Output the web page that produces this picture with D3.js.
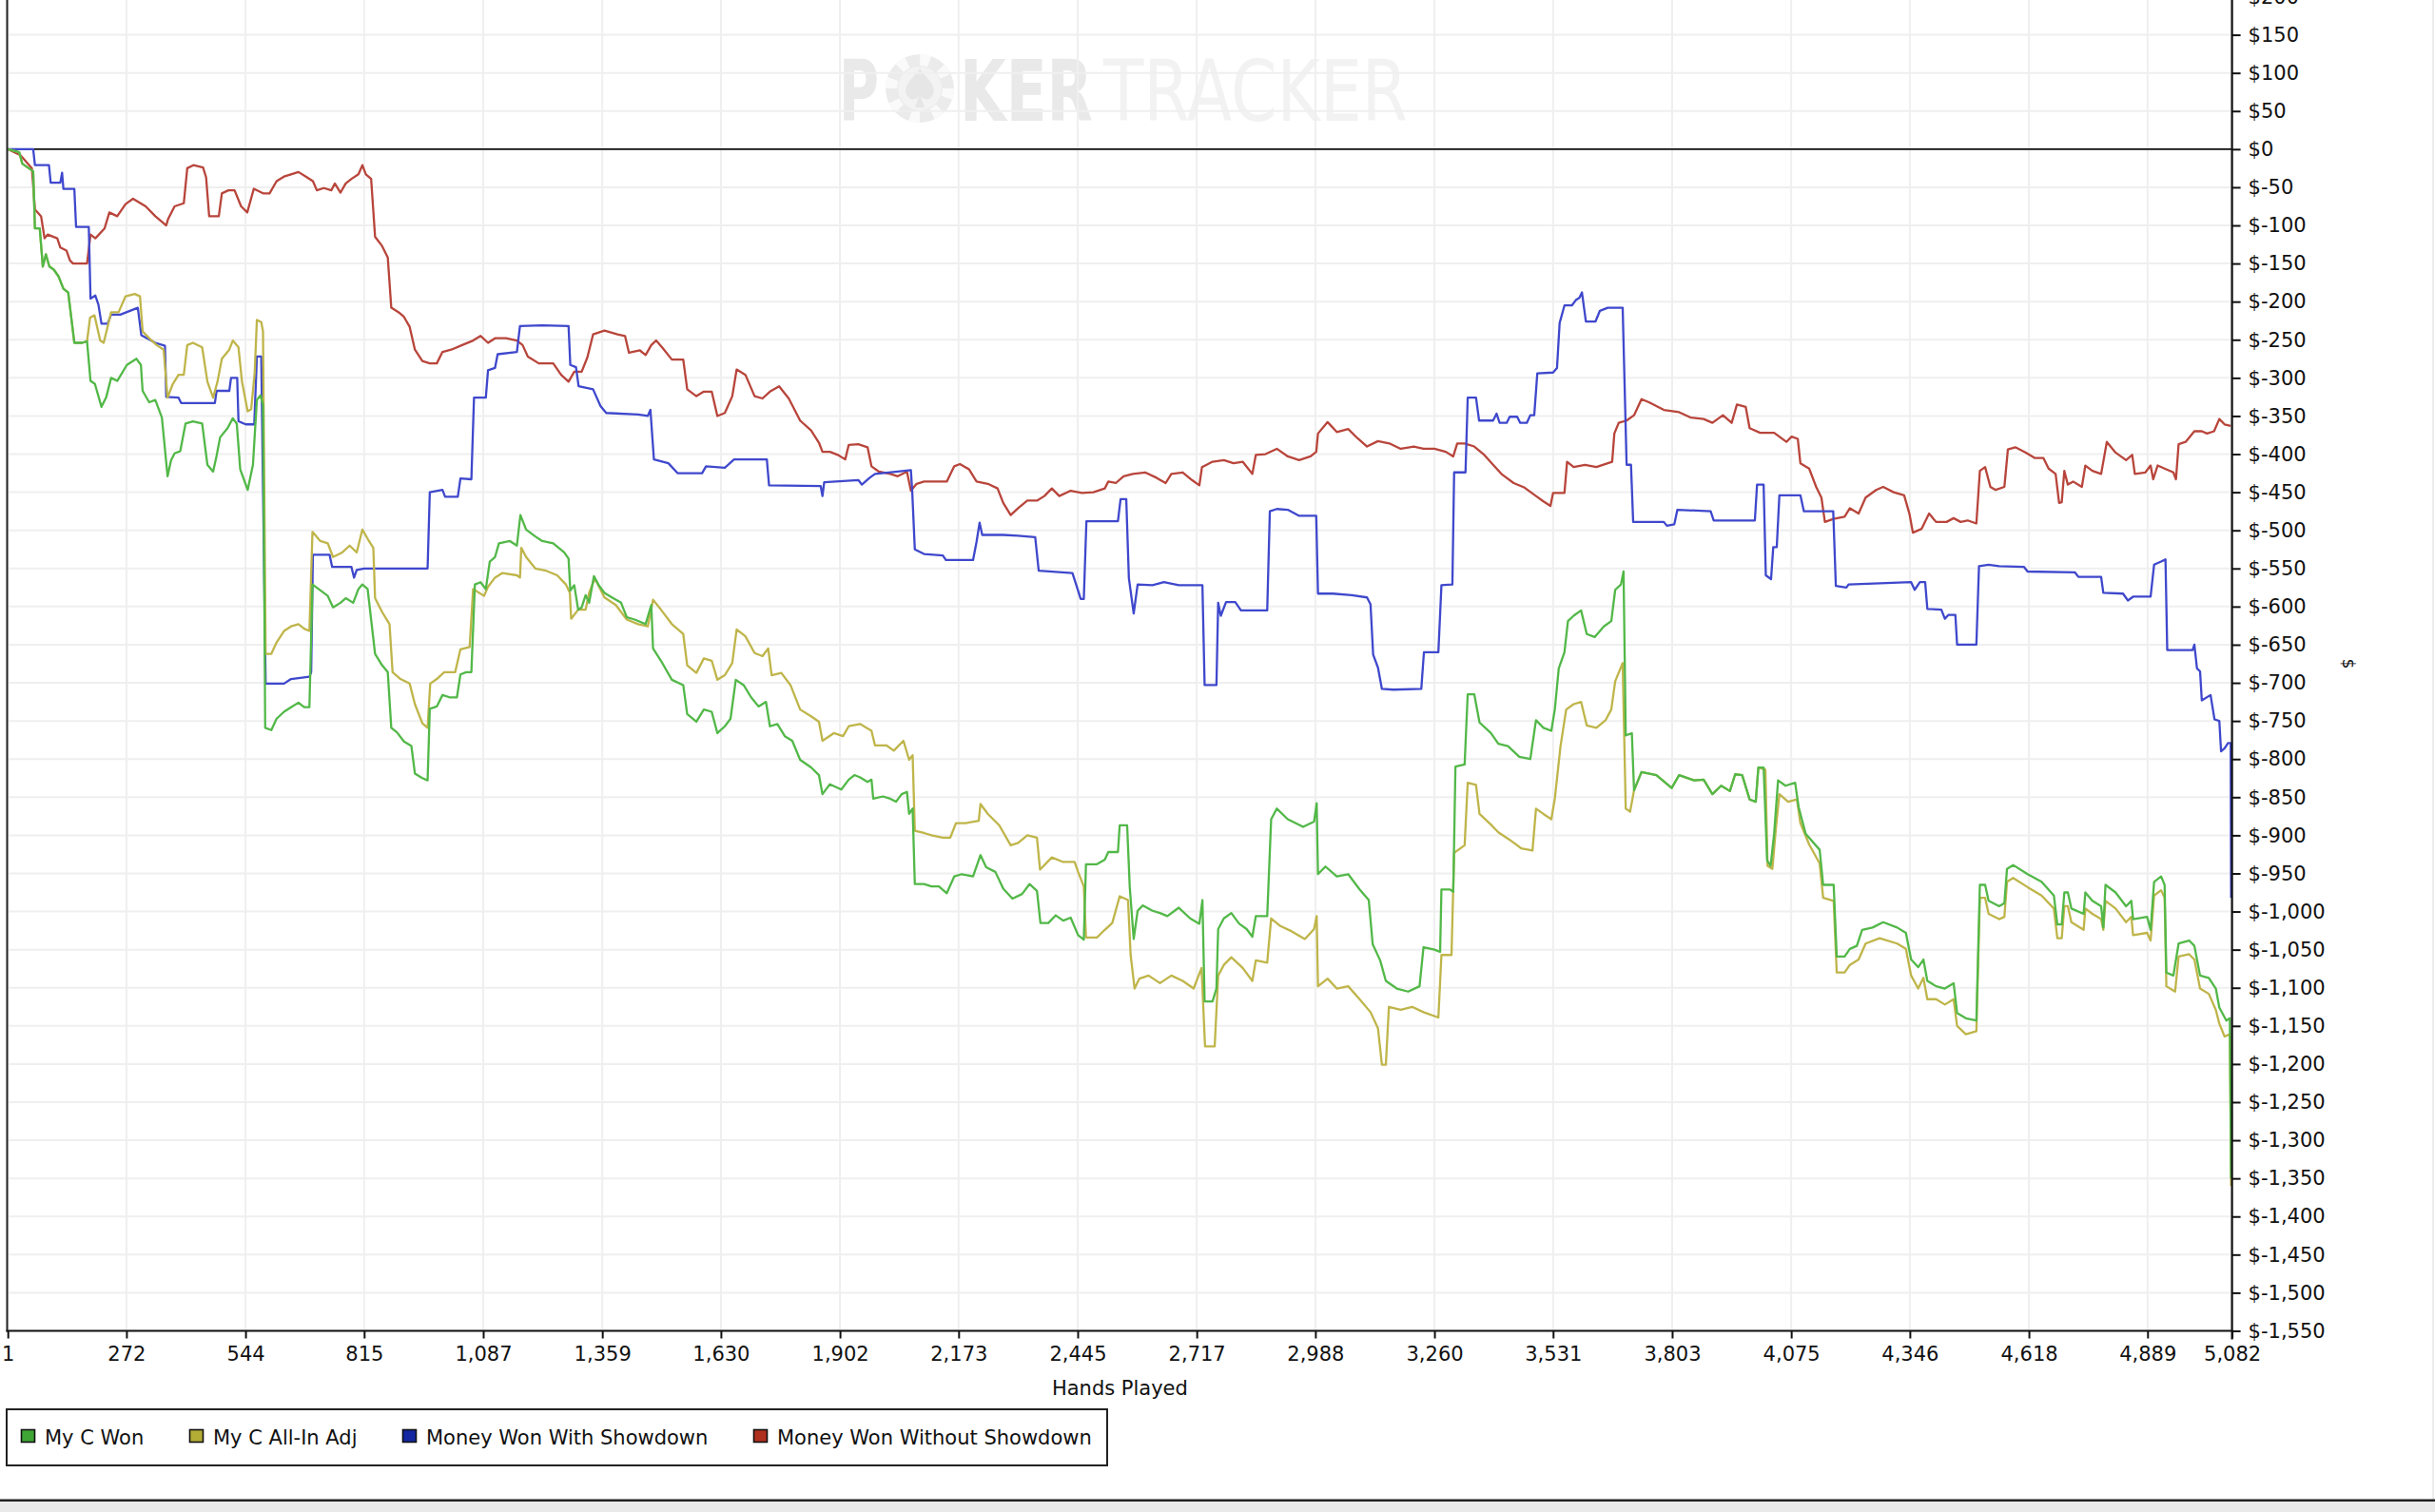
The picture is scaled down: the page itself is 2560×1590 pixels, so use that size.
<!DOCTYPE html>
<html><head><meta charset="utf-8">
<script src="https://cdn.jsdelivr.net/npm/d3@7"></script>
<style>body{margin:0;background:#fff;overflow:hidden}svg{display:block}</style>
</head><body>
<svg id="c" width="2560" height="1590"></svg>
<script>
const xTicks = [1,272,544,815,1087,1359,1630,1902,2173,2445,2717,2988,3260,3531,3803,4075,4346,4618,4889,5082];
const yTicks = [200,150,100,50,0,-50,-100,-150,-200,-250,-300,-350,-400,-450,-500,-550,-600,-650,-700,-750,-800,-850,-900,-950,-1000,-1050,-1100,-1150,-1200,-1250,-1300,-1350,-1400,-1450,-1500,-1550];
const seriesNames = ["My C Won","My C All-In Adj","Money Won With Showdown","Money Won Without Showdown"];
const seriesColors = ["#52b848","#bfb54a","#3f48cc","#b8453b"];
const legendColors = ["#3fa535","#b3ad36","#1227a0","#b0301f"];

const myCWon = [[1,0],[27,-4],[34,-19],[59,-29],[63,-104],[74,-104],[81,-154],[88,-138],[96,-154],[106,-158],[117,-167],[128,-183],[139,-188],[153,-254],[171,-254],[182,-252],[190,-304],[200,-308],[215,-338],[226,-325],[237,-300],[251,-304],[273,-283],[295,-275],[305,-283],[309,-317],[324,-332],[338,-329],[353,-352],[366,-429],[374,-408],[382,-399],[395,-396],[407,-360],[424,-357],[445,-360],[457,-414],[470,-423],[478,-402],[486,-378],[503,-366],[515,-353],[524,-360],[532,-420],[549,-447],[561,-414],[570,-329],[578,-323],[584,-335],[589,-759],[603,-762],[615,-747],[632,-738],[648,-732],[665,-726],[678,-732],[690,-732],[697,-571],[711,-577],[732,-586],[744,-601],[761,-595],[773,-589],[790,-595],[802,-577],[811,-571],[823,-577],[840,-662],[856,-677],[869,-686],[877,-759],[890,-765],[906,-777],[923,-783],[931,-819],[948,-825],[960,-828],[965,-734],[981,-731],[994,-716],[1010,-719],[1027,-719],[1035,-689],[1048,-686],[1060,-686],[1068,-571],[1081,-568],[1093,-577],[1102,-541],[1114,-535],[1123,-517],[1148,-514],[1164,-520],[1172,-480],[1185,-499],[1206,-508],[1222,-514],[1247,-517],[1272,-529],[1282,-537],[1286,-579],[1295,-572],[1304,-604],[1312,-601],[1321,-585],[1329,-595],[1340,-560],[1351,-572],[1364,-582],[1381,-588],[1402,-595],[1415,-614],[1433,-617],[1458,-623],[1471,-598],[1475,-655],[1493,-671],[1518,-696],[1544,-703],[1553,-741],[1574,-751],[1591,-735],[1609,-738],[1622,-766],[1639,-757],[1652,-747],[1664,-696],[1682,-703],[1699,-719],[1716,-731],[1733,-725],[1742,-757],[1759,-754],[1776,-770],[1793,-776],[1811,-801],[1836,-811],[1854,-821],[1862,-846],[1879,-833],[1905,-840],[1922,-827],[1935,-821],[1948,-824],[1965,-830],[1974,-827],[1978,-852],[2000,-849],[2017,-852],[2030,-856],[2043,-846],[2055,-843],[2060,-872],[2068,-865],[2073,-964],[2094,-964],[2111,-967],[2128,-967],[2146,-976],[2163,-954],[2180,-951],[2206,-954],[2223,-926],[2236,-942],[2257,-948],[2275,-970],[2296,-983],[2318,-977],[2335,-964],[2352,-973],[2360,-1015],[2378,-1015],[2395,-1005],[2412,-1012],[2429,-1008],[2446,-1031],[2459,-1037],[2464,-938],[2489,-938],[2507,-932],[2515,-922],[2537,-922],[2541,-887],[2558,-887],[2564,-968],[2573,-1036],[2582,-999],[2594,-992],[2616,-999],[2633,-1002],[2650,-1006],[2676,-995],[2702,-1009],[2723,-1016],[2730,-985],[2735,-1118],[2753,-1118],[2762,-1101],[2766,-1023],[2779,-1009],[2796,-1002],[2814,-1016],[2831,-1023],[2844,-1033],[2852,-1006],[2878,-1006],[2887,-879],[2900,-865],[2925,-879],[2960,-889],[2985,-882],[2991,-858],[2994,-951],[3011,-941],[3037,-954],[3063,-951],[3089,-971],[3110,-985],[3119,-1043],[3136,-1064],[3149,-1091],[3174,-1101],[3200,-1105],[3226,-1098],[3235,-1047],[3260,-1050],[3273,-1053],[3276,-971],[3295,-971],[3303,-974],[3308,-810],[3329,-807],[3336,-715],[3351,-715],[3363,-752],[3389,-766],[3406,-780],[3428,-783],[3454,-797],[3479,-800],[3492,-749],[3509,-759],[3527,-763],[3535,-735],[3544,-681],[3557,-660],[3565,-619],[3578,-612],[3595,-605],[3608,-636],[3626,-640],[3647,-626],[3664,-619],[3673,-578],[3686,-571],[3692,-554],[3697,-769],[3711,-766],[3716,-841],[3733,-817],[3767,-821],[3802,-838],[3819,-821],[3853,-828],[3875,-827],[3895,-846],[3915,-835],[3935,-842],[3947,-820],[3963,-821],[3980,-853],[3994,-856],[4000,-811],[4012,-811],[4020,-933],[4028,-940],[4036,-898],[4045,-828],[4062,-835],[4084,-831],[4092,-863],[4108,-898],[4140,-919],[4148,-965],[4172,-965],[4179,-1059],[4197,-1059],[4209,-1049],[4225,-1045],[4237,-1024],[4261,-1021],[4285,-1014],[4317,-1021],[4337,-1028],[4349,-1063],[4365,-1073],[4377,-1063],[4386,-1091],[4406,-1098],[4426,-1101],[4446,-1094],[4454,-1133],[4474,-1140],[4498,-1143],[4506,-965],[4518,-965],[4526,-986],[4550,-993],[4562,-989],[4568,-944],[4582,-939],[4615,-951],[4647,-961],[4675,-979],[4683,-1017],[4693,-1017],[4699,-975],[4707,-975],[4715,-996],[4743,-1003],[4747,-975],[4763,-986],[4783,-993],[4788,-1021],[4793,-965],[4816,-975],[4840,-993],[4852,-986],[4856,-1010],[4888,-1007],[4896,-1024],[4904,-961],[4920,-954],[4928,-965],[4932,-1080],[4948,-1084],[4960,-1042],[4984,-1038],[4996,-1045],[5009,-1084],[5029,-1087],[5045,-1101],[5053,-1126],[5069,-1143],[5077,-1140],[5080,-1350]];

const myCAllInAdj = [[1,0],[27,-4],[34,-19],[59,-29],[63,-104],[74,-104],[81,-154],[88,-138],[96,-154],[106,-158],[117,-167],[128,-183],[139,-188],[153,-254],[171,-254],[182,-252],[189,-221],[199,-218],[212,-251],[220,-254],[229,-233],[237,-214],[254,-214],[270,-193],[291,-190],[303,-193],[309,-239],[324,-248],[341,-257],[357,-263],[366,-326],[378,-308],[391,-296],[403,-296],[411,-257],[424,-254],[445,-260],[457,-305],[470,-326],[480,-305],[490,-275],[507,-263],[515,-251],[528,-260],[536,-305],[549,-344],[557,-341],[565,-293],[570,-224],[580,-227],[584,-239],[590,-662],[603,-662],[615,-647],[632,-632],[648,-626],[665,-623],[678,-629],[690,-632],[697,-502],[715,-514],[732,-517],[744,-535],[765,-529],[782,-520],[798,-529],[811,-499],[823,-511],[836,-523],[840,-589],[856,-607],[873,-623],[880,-686],[898,-695],[919,-701],[931,-728],[948,-753],[960,-759],[966,-701],[981,-695],[998,-686],[1023,-686],[1035,-656],[1056,-653],[1064,-577],[1089,-586],[1098,-574],[1114,-562],[1131,-556],[1164,-559],[1171,-562],[1174,-523],[1185,-535],[1206,-550],[1231,-553],[1256,-559],[1276,-571],[1285,-582],[1288,-616],[1304,-604],[1321,-604],[1329,-582],[1342,-563],[1364,-588],[1390,-598],[1415,-617],[1441,-623],[1463,-626],[1475,-591],[1493,-604],[1518,-623],[1544,-636],[1553,-677],[1574,-687],[1591,-668],[1609,-671],[1622,-696],[1639,-690],[1656,-674],[1666,-630],[1686,-639],[1707,-661],[1725,-665],[1738,-655],[1746,-690],[1768,-687],[1789,-703],[1811,-735],[1836,-744],[1854,-751],[1862,-776],[1888,-766],[1909,-770],[1922,-757],[1948,-754],[1974,-763],[1982,-782],[2008,-782],[2025,-789],[2047,-776],[2060,-801],[2068,-795],[2073,-894],[2094,-897],[2111,-900],[2137,-903],[2154,-903],[2167,-884],[2189,-884],[2219,-881],[2223,-859],[2240,-872],[2266,-887],[2292,-913],[2309,-910],[2330,-900],[2352,-903],[2359,-945],[2386,-929],[2412,-935],[2438,-935],[2446,-948],[2459,-967],[2464,-1034],[2489,-1034],[2507,-1024],[2524,-1015],[2541,-980],[2560,-985],[2566,-1057],[2575,-1101],[2586,-1088],[2607,-1084],[2633,-1094],[2659,-1084],[2685,-1091],[2710,-1101],[2728,-1074],[2736,-1177],[2758,-1177],[2766,-1084],[2779,-1070],[2796,-1060],[2822,-1074],[2844,-1091],[2852,-1064],[2878,-1067],[2887,-1009],[2908,-1019],[2934,-1026],[2964,-1036],[2985,-1023],[2991,-1006],[2994,-1098],[3016,-1088],[3037,-1101],[3063,-1098],[3089,-1115],[3114,-1132],[3131,-1153],[3140,-1201],[3149,-1201],[3156,-1125],[3183,-1129],[3209,-1125],[3235,-1132],[3269,-1139],[3276,-1057],[3299,-1057],[3305,-923],[3329,-913],[3336,-831],[3355,-834],[3363,-872],[3389,-886],[3406,-896],[3432,-906],[3458,-917],[3484,-920],[3492,-865],[3509,-872],[3527,-879],[3535,-852],[3548,-783],[3561,-735],[3578,-728],[3595,-725],[3608,-756],[3630,-759],[3651,-749],[3664,-735],[3673,-698],[3690,-674],[3697,-865],[3707,-869],[3716,-841],[3733,-817],[3767,-821],[3802,-838],[3819,-821],[3853,-828],[3875,-827],[3895,-846],[3915,-835],[3935,-842],[3947,-820],[3963,-821],[3980,-853],[3994,-856],[4000,-811],[4016,-814],[4021,-940],[4032,-944],[4040,-891],[4048,-846],[4068,-856],[4088,-853],[4096,-884],[4116,-912],[4140,-937],[4148,-982],[4172,-986],[4179,-1080],[4197,-1080],[4209,-1070],[4229,-1063],[4245,-1042],[4277,-1035],[4317,-1042],[4337,-1049],[4349,-1084],[4365,-1101],[4377,-1087],[4386,-1115],[4406,-1115],[4426,-1122],[4446,-1115],[4454,-1150],[4474,-1161],[4498,-1157],[4506,-982],[4518,-982],[4526,-1003],[4550,-1010],[4562,-1007],[4568,-961],[4582,-956],[4615,-968],[4647,-979],[4675,-996],[4683,-1035],[4693,-1035],[4699,-993],[4707,-993],[4715,-1014],[4743,-1024],[4747,-996],[4763,-1003],[4783,-1010],[4788,-1024],[4793,-986],[4816,-996],[4840,-1014],[4852,-1007],[4856,-1031],[4888,-1028],[4896,-1038],[4904,-979],[4920,-972],[4928,-982],[4932,-1098],[4952,-1105],[4960,-1059],[4984,-1056],[4996,-1063],[5009,-1101],[5029,-1108],[5045,-1129],[5053,-1147],[5065,-1164],[5077,-1161],[5080,-1360]];

const wonWithShowdown = [[1,0],[59,0],[63,-21],[95,-21],[99,-44],[121,-44],[125,-31],[128,-52],[153,-52],[157,-102],[186,-102],[190,-196],[201,-192],[208,-204],[215,-229],[229,-229],[237,-217],[258,-217],[298,-208],[306,-244],[338,-254],[360,-258],[363,-325],[391,-326],[397,-333],[474,-333],[478,-317],[507,-317],[511,-300],[525,-300],[528,-357],[545,-361],[564,-361],[570,-272],[580,-272],[590,-701],[632,-701],[648,-695],[690,-692],[694,-686],[698,-532],[736,-532],[742,-548],[786,-548],[792,-562],[798,-552],[815,-550],[960,-550],[965,-450],[994,-447],[1000,-456],[1029,-456],[1035,-432],[1060,-433],[1066,-326],[1093,-326],[1098,-290],[1114,-287],[1120,-269],[1164,-266],[1171,-232],[1222,-231],[1282,-232],[1286,-283],[1299,-286],[1305,-311],[1338,-315],[1355,-337],[1368,-346],[1441,-348],[1463,-350],[1469,-342],[1477,-407],[1510,-412],[1531,-425],[1587,-425],[1596,-416],[1639,-418],[1660,-407],[1735,-407],[1740,-441],[1858,-442],[1862,-455],[1866,-437],[1944,-434],[1952,-440],[1970,-431],[1982,-426],[2034,-423],[2064,-421],[2067,-448],[2073,-525],[2094,-531],[2137,-533],[2144,-539],[2206,-539],[2214,-515],[2221,-490],[2227,-506],[2275,-506],[2309,-507],[2348,-509],[2356,-553],[2433,-556],[2442,-572],[2452,-590],[2459,-590],[2465,-488],[2537,-488],[2543,-459],[2556,-459],[2562,-563],[2573,-609],[2582,-571],[2616,-572],[2642,-568],[2676,-572],[2730,-572],[2735,-703],[2762,-703],[2766,-595],[2772,-612],[2784,-594],[2805,-594],[2818,-605],[2878,-605],[2884,-475],[2900,-472],[2925,-473],[2951,-481],[2990,-481],[2994,-583],[3028,-583],[3071,-585],[3106,-588],[3114,-597],[3120,-663],[3131,-680],[3140,-708],[3166,-709],[3230,-708],[3236,-660],[3269,-660],[3276,-572],[3301,-571],[3305,-424],[3331,-424],[3336,-326],[3355,-326],[3362,-356],[3394,-356],[3402,-347],[3409,-359],[3425,-359],[3432,-351],[3449,-351],[3456,-359],[3471,-359],[3479,-349],[3488,-349],[3495,-294],[3531,-293],[3540,-287],[3546,-228],[3557,-205],[3574,-205],[3583,-198],[3591,-195],[3597,-188],[3606,-226],[3628,-226],[3638,-212],[3656,-208],[3690,-208],[3699,-414],[3709,-414],[3714,-489],[3784,-489],[3791,-494],[3808,-492],[3815,-473],[3891,-475],[3898,-487],[3992,-487],[3997,-440],[4012,-440],[4017,-559],[4029,-564],[4034,-522],[4042,-522],[4048,-454],[4096,-454],[4104,-475],[4171,-475],[4177,-573],[4201,-575],[4206,-571],[4349,-568],[4357,-578],[4369,-568],[4381,-568],[4386,-603],[4418,-604],[4426,-616],[4434,-611],[4450,-611],[4454,-650],[4498,-650],[4504,-547],[4526,-545],[4550,-547],[4607,-548],[4615,-554],[4723,-555],[4731,-561],[4783,-561],[4788,-582],[4833,-583],[4844,-592],[4856,-587],[4896,-587],[4904,-545],[4920,-541],[4930,-538],[4934,-657],[4992,-657],[4996,-650],[5002,-681],[5009,-685],[5013,-723],[5033,-716],[5042,-748],[5053,-750],[5057,-790],[5065,-786],[5073,-779],[5079,-779],[5080,-982]];

const wonWithoutShowdown = [[1,0],[30,-8],[56,-25],[63,-79],[77,-88],[85,-117],[92,-112],[114,-117],[121,-129],[135,-133],[143,-146],[150,-150],[182,-150],[190,-112],[201,-117],[222,-104],[233,-83],[251,-88],[270,-72],[287,-65],[316,-75],[338,-88],[363,-100],[367,-92],[382,-75],[403,-71],[411,-25],[425,-21],[447,-24],[454,-37],[461,-88],[483,-88],[490,-58],[505,-54],[519,-54],[534,-75],[548,-83],[563,-52],[584,-58],[599,-58],[615,-42],[632,-36],[648,-33],[665,-30],[682,-36],[698,-42],[707,-54],[723,-51],[740,-54],[748,-45],[761,-57],[773,-45],[786,-39],[802,-33],[811,-21],[819,-33],[831,-39],[840,-115],[856,-127],[869,-142],[877,-208],[894,-214],[906,-220],[919,-233],[931,-263],[948,-278],[965,-281],[981,-281],[994,-266],[1014,-263],[1039,-257],[1064,-251],[1081,-245],[1098,-254],[1114,-248],[1139,-248],[1164,-251],[1177,-257],[1189,-272],[1214,-281],[1247,-281],[1265,-296],[1282,-305],[1295,-292],[1312,-292],[1325,-273],[1338,-243],[1364,-238],[1394,-243],[1411,-245],[1420,-267],[1445,-264],[1458,-270],[1471,-257],[1482,-251],[1497,-261],[1518,-276],[1544,-276],[1553,-315],[1574,-324],[1591,-318],[1609,-318],[1622,-350],[1639,-346],[1656,-324],[1666,-289],[1686,-296],[1707,-324],[1725,-327],[1742,-318],[1763,-311],[1785,-327],[1811,-356],[1836,-369],[1854,-385],[1862,-397],[1879,-397],[1897,-401],[1914,-407],[1922,-388],[1944,-387],[1965,-391],[1974,-416],[1991,-423],[2017,-426],[2034,-429],[2055,-423],[2064,-448],[2077,-439],[2094,-436],[2146,-436],[2163,-416],[2176,-413],[2197,-420],[2214,-436],[2240,-439],[2262,-445],[2275,-464],[2292,-480],[2309,-471],[2330,-461],[2352,-461],[2369,-455],[2386,-445],[2403,-455],[2429,-448],[2455,-451],[2481,-450],[2507,-445],[2515,-436],[2532,-438],[2550,-429],[2571,-426],[2599,-424],[2625,-431],[2646,-438],[2659,-426],[2685,-424],[2706,-434],[2723,-441],[2729,-417],[2753,-410],[2779,-408],[2801,-412],[2822,-410],[2844,-426],[2852,-401],[2874,-400],[2900,-393],[2925,-403],[2951,-408],[2977,-403],[2990,-397],[2994,-373],[3016,-358],[3037,-371],[3063,-367],[3084,-379],[3106,-390],[3131,-383],[3157,-386],[3183,-393],[3213,-390],[3235,-393],[3260,-393],[3286,-397],[3303,-403],[3312,-386],[3329,-386],[3351,-390],[3372,-400],[3394,-414],[3415,-427],[3441,-438],[3466,-444],[3492,-455],[3509,-462],[3525,-468],[3531,-451],[3557,-451],[3563,-410],[3578,-417],[3604,-414],[3630,-417],[3656,-412],[3666,-410],[3671,-373],[3681,-359],[3699,-356],[3716,-349],[3733,-328],[3750,-332],[3784,-342],[3819,-345],[3845,-352],[3875,-354],[3895,-359],[3919,-349],[3939,-359],[3951,-335],[3971,-338],[3980,-366],[4004,-372],[4036,-372],[4064,-384],[4076,-377],[4090,-380],[4096,-412],[4116,-419],[4132,-443],[4144,-457],[4152,-489],[4172,-485],[4197,-482],[4209,-471],[4229,-478],[4245,-457],[4269,-447],[4285,-443],[4309,-450],[4333,-454],[4345,-478],[4353,-503],[4373,-498],[4390,-478],[4406,-489],[4430,-489],[4446,-484],[4462,-489],[4478,-487],[4498,-491],[4506,-422],[4518,-417],[4530,-443],[4542,-447],[4562,-443],[4570,-394],[4587,-391],[4611,-398],[4631,-405],[4651,-405],[4663,-419],[4679,-426],[4687,-464],[4693,-463],[4699,-422],[4707,-440],[4719,-436],[4739,-443],[4747,-415],[4763,-422],[4783,-426],[4796,-384],[4816,-398],[4840,-408],[4854,-401],[4860,-426],[4884,-424],[4896,-415],[4902,-433],[4912,-415],[4928,-419],[4948,-424],[4954,-433],[4960,-387],[4976,-384],[4996,-370],[5013,-370],[5025,-373],[5041,-370],[5053,-354],[5065,-361],[5079,-363]];

const allSeries = [myCWon, myCAllInAdj, wonWithShowdown, wonWithoutShowdown];

const FONT = "DejaVu Sans";
const svg = d3.select("#c");
const left = 8.2, right = 2346.6, bottom = 1399.5;
const x = d3.scaleLinear().domain([1, 5082]).range([left, right]);
const y = d3.scaleLinear().domain([200, -1550]).range([-3.5, bottom]);

svg.append("rect").attr("width",2560).attr("height",1590).attr("fill","#fff");

// watermark: pieces squeezed horizontally with a transform
const wm = svg.append("g");
wm.append("circle").attr("cx",967).attr("cy",93).attr("r",36).attr("fill","#ebebeb");
wm.append("circle").attr("cx",967).attr("cy",93).attr("r",30).attr("fill","none").attr("stroke","#fafafa")
  .attr("stroke-width",12).attr("stroke-dasharray","10 13.56");
wm.append("circle").attr("cx",967).attr("cy",93).attr("r",23).attr("fill","#f3f3f3");
wm.append("path").attr("d","M967,72 C975,84 986,90 980,101 C976,107 970,104 968,101 L972,113 L962,113 L966,101 C964,104 958,107 954,101 C948,90 959,84 967,72 Z").attr("fill","#e6e6e6");
[
  {t:"P", x:882, w:42, bold:true, c:"#e9e9e9"},
  {t:"KER", x:1009, w:140, bold:true, c:"#e9e9e9"},
  {t:"TRACKER", x:1160, w:320, bold:false, c:"#f2f2f2"}
].forEach(p=>{
  const t = wm.append("text").attr("x",0).attr("y",0).attr("font-family",FONT)
    .attr("font-size",89).attr("font-weight",p.bold?"bold":"normal").attr("fill",p.c).text(p.t);
  const nat = t.node().getComputedTextLength();
  t.attr("transform",`translate(${p.x},127) scale(${p.w/nat},1)`);
});

// gridlines
svg.append("g").selectAll("line").data(yTicks).join("line")
  .attr("x1",left).attr("x2",right).attr("y1",d=>y(d)).attr("y2",d=>y(d))
  .attr("stroke","#efefef").attr("stroke-width",2);
svg.append("g").selectAll("line").data(xTicks).join("line")
  .attr("x1",d=>x(d)).attr("x2",d=>x(d)).attr("y1",0).attr("y2",bottom)
  .attr("stroke","#efefef").attr("stroke-width",2);

// zero line
svg.append("line").attr("x1",left).attr("x2",right).attr("y1",y(0)).attr("y2",y(0))
  .attr("stroke","#111").attr("stroke-width",1.6);

// series
svg.append("defs").append("clipPath").attr("id","clip").append("rect")
  .attr("x",left).attr("y",0).attr("width",right-left+1).attr("height",bottom);
const line = d3.line().x(d=>x(d[0])).y(d=>y(d[1]));
const gS = svg.append("g").attr("clip-path","url(#clip)");
[3,2,1,0].forEach(i=>{
  gS.append("path").datum(allSeries[i]).attr("d",line).attr("fill","none")
    .attr("stroke",seriesColors[i]).attr("stroke-width",2.3).attr("stroke-linejoin","round");
});

// left border
svg.append("line").attr("x1",7.5).attr("x2",7.5).attr("y1",0).attr("y2",bottom+1)
  .attr("stroke","#222").attr("stroke-width",2);

// x axis
const fmt = d3.format(",");
const xAxis = d3.axisBottom(x).tickValues(xTicks).tickFormat(d=>fmt(d)).tickSize(8).tickPadding(9);
const gx = svg.append("g").attr("transform",`translate(0,${bottom})`).call(xAxis);
gx.select(".domain").remove();
gx.selectAll(".tick line").attr("stroke","#111").attr("stroke-width",2);
gx.selectAll("text").attr("font-family",FONT).attr("font-size",21).attr("fill","#111");
svg.append("line").attr("x1",6.5).attr("x2",right+1).attr("y1",bottom).attr("y2",bottom)
  .attr("stroke","#111").attr("stroke-width",2.2);

// y axis (right)
const yFmt = d => "$" + (d < 0 ? "-" : "") + fmt(Math.abs(d));
const yAxis = d3.axisRight(y).tickValues(yTicks).tickFormat(yFmt).tickSize(9).tickPadding(8);
const gy = svg.append("g").attr("transform",`translate(${right},0)`).call(yAxis);
gy.select(".domain").remove();
gy.selectAll(".tick line").attr("stroke","#111").attr("stroke-width",2);
gy.selectAll("text").attr("font-family",FONT).attr("font-size",21).attr("fill","#111");
svg.append("line").attr("x1",right).attr("x2",right).attr("y1",0).attr("y2",bottom+9)
  .attr("stroke","#111").attr("stroke-width",2.2);

// axis titles
svg.append("text").attr("x",(left+right)/2).attr("y",1467).attr("text-anchor","middle")
  .attr("font-family",FONT).attr("font-size",21).attr("fill","#111").text("Hands Played");
svg.append("text").attr("transform",`translate(2463,${(y(200)+bottom)/2}) rotate(90)`).attr("text-anchor","middle")
  .attr("font-family",FONT).attr("font-size",17).attr("fill","#111").text("$");

// legend
svg.append("rect").attr("x",7).attr("y",1482).attr("width",1157).attr("height",59)
  .attr("fill","#fff").attr("stroke","#222").attr("stroke-width",2);
const legX = [22,199,423,792];
const lg = svg.append("g").selectAll("g").data(seriesNames).join("g");
lg.append("rect").attr("x",(d,i)=>legX[i]+0.5).attr("y",1503.5).attr("width",14).attr("height",13)
  .attr("fill",(d,i)=>legendColors[i]).attr("stroke","#111").attr("stroke-width",1.6);
lg.append("text").attr("x",(d,i)=>legX[i]+25).attr("y",1511).attr("dy","0.36em")
  .attr("font-family",FONT).attr("font-size",21).attr("fill","#111").text(d=>d);

// bottom bar and right edge
svg.append("line").attr("x1",2558).attr("x2",2558).attr("y1",0).attr("y2",1577).attr("stroke","#d8d8d8").attr("stroke-width",1);
svg.append("rect").attr("x",0).attr("y",1576.5).attr("width",2560).attr("height",2.5).attr("fill","#222");
svg.append("rect").attr("x",0).attr("y",1579).attr("width",2560).attr("height",11).attr("fill","#e9e9e9");
</script>
</body></html>
